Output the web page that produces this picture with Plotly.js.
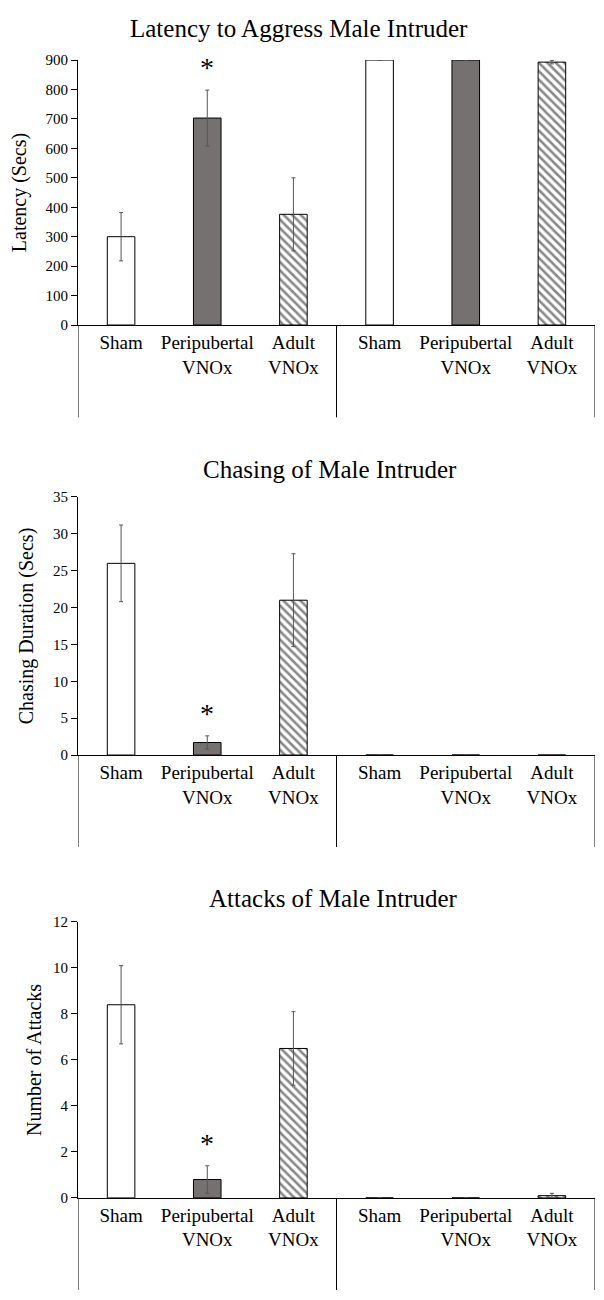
<!DOCTYPE html>
<html>
<head>
<meta charset="utf-8">
<script src="https://cdn.plot.ly/plotly-3.0.1.min.js"></script>
<style>
  body { margin: 0; background: #fff; }
  #grafico { width: 604px; height: 1300px; }
</style>
</head>
<body>
<div id="grafico"></div>
<script>
// rotulos das categorias (o mesmo trio aparece nos dois grupos)
const categorias = ["Sham", "Peripubertal<br>VNOx", "Adult<br>VNOx",
  "Sham", "Peripubertal<br>VNOx", "Adult<br>VNOx"]

const titulos = ["Latency to Aggress Male Intruder", "Chasing of Male Intruder", "Attacks of Male Intruder"]
const eixosY = ["Latency (Secs)", "Chasing Duration (Secs)", "Number of Attacks"]

const latencia = [300, 703, 376, 900, 900, 893]
const latenciaErro = [82, 95, 124, 0, 0, 6]

const perseguicao = [26, 1.7, 21, 0, 0, 0]
const perseguicaoErro = [5.2, 0.9, 6.3, 0, 0, 0]

const ataques = [8.4, 0.8, 6.5, 0, 0, 0.1]
const ataquesErro = [1.7, 0.6, 1.6, 0, 0, 0.1]

// qual barra leva o asterisco
const significativo = [false, true, false, false, false, false]

const fonte = "Liberation Serif, Times New Roman, serif"

// estilo de cada tipo de barra: sham, peripubertal, adulto
const estilos = [
  { cor: "#ffffff", forma: "" },
  { cor: "#767171", forma: "" },
  { cor: "#ffffff", forma: "\\" },
]

const posicoes = categorias.map((c, i) => i)

const paineis = [
  { y: latencia, e: latenciaErro, max: 900, passo: 100, dom: [0.75, 0.9538], fim: 0.679, tit: 0.978, titX: 0.427, standoff: 13 },
  { y: perseguicao, e: perseguicaoErro, max: 35, passo: 5, dom: [0.4192, 0.6177], fim: 0.3485, tit: 0.6385, titX: 0.487, standoff: 13 },
  { y: ataques, e: ataquesErro, max: 12, passo: 2, dom: [0.0785, 0.2908], fim: 0.0077, tit: 0.3085, titX: 0.495, standoff: 5 },
]

const data = []
const layout = {
  width: 604,
  height: 1300,
  margin: { l: 78, r: 9, t: 0, b: 0 },
  paper_bgcolor: "#fff",
  plot_bgcolor: "#fff",
  showlegend: false,
  barmode: "overlay",
  bargap: 0.68,
  font: { family: fonte, color: "#000" },
  annotations: [],
  shapes: [],
}

paineis.forEach((p, k) => {
  const sx = k == 0 ? "" : String(k + 1)

  estilos.forEach((est, s) => {
    const idx = posicoes.filter((i) => i % 3 == s)
    data.push({
      type: "bar",
      x: idx,
      y: idx.map((i) => p.y[i]),
      xaxis: "x" + sx,
      yaxis: "y" + sx,
      width: 0.32,
      marker: {
        color: est.cor,
        line: { color: "#000", width: 1 },
        pattern: { shape: est.forma, fgcolor: "#111", bgcolor: "#fff", size: 6, solidity: 0.42, fillmode: "overlay" },
      },
      error_y: { type: "data", array: idx.map((i) => p.e[i]), visible: true, color: "#555", thickness: 1, width: 2 },
      hoverinfo: "none",
    })
  })

  layout["xaxis" + sx] = {
    domain: [0, 1],
    anchor: "y" + sx,
    range: [-0.5, 5.5],
    tickvals: posicoes,
    ticktext: categorias,
    ticks: "",
    showline: true,
    linecolor: "#000",
    linewidth: 1,
    showgrid: false,
    zeroline: false,
    tickfont: { family: fonte, size: 19, color: "#000" },
    fixedrange: true,
  }
  layout["yaxis" + sx] = {
    domain: p.dom,
    anchor: "x" + sx,
    range: [0, p.max],
    dtick: p.passo,
    ticks: "outside",
    ticklen: 6,
    tickcolor: "#000",
    showline: true,
    linecolor: "#000",
    linewidth: 1,
    showgrid: false,
    zeroline: false,
    tickfont: { family: fonte, size: 15, color: "#000" },
    title: { text: eixosY[k], font: { family: fonte, size: 20, color: "#000" }, standoff: p.standoff },
    fixedrange: true,
  }

  layout.annotations.push({
    text: titulos[k],
    xref: "paper", yref: "paper",
    x: p.titX, y: p.tit,
    yanchor: "middle",
    showarrow: false,
    font: { family: fonte, size: 25, color: "#000" },
  })

  p.y.forEach((v, i) => {
    if (significativo[i]) {
      layout.annotations.push({
        text: "*",
        xref: "x" + sx, yref: "y" + sx,
        x: i, y: v + p.e[i],
        yanchor: "bottom",
        yshift: 5,
        showarrow: false,
        font: { family: fonte, size: 28, color: "#000" },
      })
    }
  })

  // linhas verticais que separam os grupos abaixo do eixo
  ;[-0.5, 2.5, 5.5].forEach((xv) => {
    layout.shapes.push({
      type: "line",
      xref: "x" + sx, yref: "paper",
      x0: xv, x1: xv,
      y0: p.dom[0], y1: p.fim,
      line: { color: "#000", width: 1 },
    })
  })
})

Plotly.newPlot("grafico", data, layout, { displayModeBar: false, staticPlot: true })
</script>
</body>
</html>
